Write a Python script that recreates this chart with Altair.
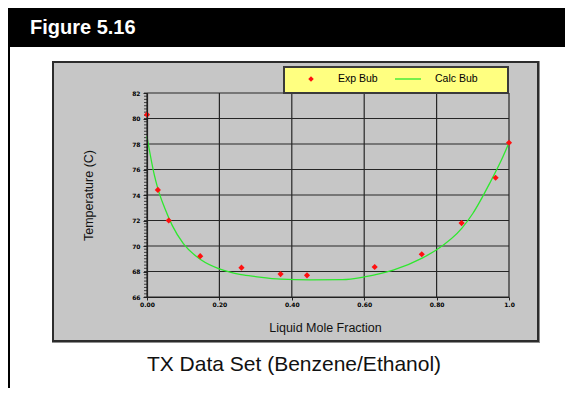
import altair as alt
import numpy as np
import pandas as pd

# ---- data ----
exp_x = [0.0, 0.030, 0.060, 0.147, 0.261, 0.369, 0.442, 0.629, 0.759, 0.869, 0.963, 1.0]
exp_t = [80.3, 74.4, 72.0, 69.2, 68.3, 67.8, 67.7, 68.35, 69.35, 71.8, 75.35, 78.1]

calc_x = [0.0, 0.01, 0.02, 0.03, 0.05, 0.07, 0.10, 0.15, 0.20, 0.26, 0.30, 0.37, 0.45,
          0.54, 0.60, 0.68, 0.76, 0.80, 0.87, 0.90, 0.95, 0.98, 1.0]
calc_t = [78.6, 77.0, 75.6, 74.5, 72.9, 71.6, 70.2, 68.9, 68.2, 67.75, 67.6, 67.4, 67.35,
          67.36, 67.57, 68.1, 69.05, 69.7, 71.4, 72.55, 75.1, 76.8, 78.1]

x_ticks = [0.0, 0.2, 0.4, 0.6, 0.8, 1.0]
y_ticks = [66, 68, 70, 72, 74, 76, 78, 80, 82]
y_minor = [float(v) for v in np.round(np.arange(66, 82.001, 0.25), 2)]
legend_labels = ["Exp Bub", "Calc Bub"]

fig_title = "Figure 5.16"
subtitle = "TX Data Set (Benzene/Ethanol)"
x_title = "Liquid Mole Fraction"
y_title = "Temperature (C)"

W, H = 362, 204
FONT = "Liberation Sans"

xscale = alt.Scale(domain=[0, 1], nice=False, zero=False)
yscale = alt.Scale(domain=[66, 82], nice=False, zero=False)

xaxis = alt.Axis(values=x_ticks, grid=False, labelFlush=False, labelOverlap=False,
                 labelExpr="datum.value == 1 ? '1.0' : format(datum.value, '.2f')",
                 labelFont="DejaVu Sans", labelFontSize=6, labelFontWeight="bold",
                 labelColor="#000000", labelPadding=1, tickSize=3, tickColor="#202020",
                 domainColor="#202020", domainWidth=1.2,
                 title=x_title, titleFont=FONT, titleFontSize=12.5, titleFontWeight="normal",
                 titleColor="#111111", titleX=178, titleY=30, titleBaseline="middle",
                 titleAlign="center", zindex=1)
yaxis = alt.Axis(values=y_ticks, grid=False, format="d", labelFlush=False, labelOverlap=False,
                 labelFont="DejaVu Sans", labelFontSize=6, labelFontWeight="bold",
                 labelColor="#000000", labelPadding=3, tickSize=4, tickColor="#202020",
                 domainColor="#202020", domainWidth=1.2,
                 title=y_title, titleFont=FONT, titleFontSize=12.5, titleFontWeight="normal",
                 titleColor="#111111", titleX=-59, titleY=102, titleAngle=270,
                 titleBaseline="middle", titleAlign="center", zindex=1)

X = alt.X("x:Q", scale=xscale, axis=xaxis)
Y = alt.Y("t:Q", scale=yscale, axis=yaxis)

one = pd.DataFrame({"k": [0]})


def rect(x1, x2, y1, y2, **kw):
    return alt.Chart(one).mark_rect(**kw).encode(
        x=alt.value(x1), x2=alt.value(x2), y=alt.value(y1), y2=alt.value(y2))


def text(t, x, y, **kw):
    return alt.Chart(pd.DataFrame({"s": [t]})).mark_text(**kw).encode(
        x=alt.value(x), y=alt.value(y), text="s:N")


# page decorations (coordinates relative to plot origin)
header = rect(-150, 430, -100, -46, fill="#000000")
left_border = rect(-139, -137, -46, 310, fill="#000000")
panel_halo = rect(-95, 393, -32, 250, fill="#8e8e8e")
panel = rect(-94, 391, -31, 248, fill="#c6c6c6", stroke="#2c2c2c", strokeWidth=2)

title_t = text(fig_title, -117, -59, align="left", baseline="alphabetic", font=FONT,
               fontSize=20, fontWeight="bold", color="#ffffff")
sub_t = text(subtitle, 147, 272, align="center", baseline="middle", font=FONT,
             fontSize=21, color="#111111")

# grid lines
vgrid = alt.Chart(pd.DataFrame({"x": x_ticks})).mark_rule(
    color="#262626", strokeWidth=1.2).encode(x=X)
hgrid = alt.Chart(pd.DataFrame({"t": y_ticks})).mark_rule(
    color="#262626", strokeWidth=1.2).encode(y=Y)
minor = alt.Chart(pd.DataFrame({"t": y_minor})).mark_rule(
    color="#202020", strokeWidth=0.8).encode(y=Y, x=alt.value(-3), x2=alt.value(0))

# data
calc = alt.Chart(pd.DataFrame({"x": calc_x, "t": calc_t})).mark_line(
    color="#2ee82e", strokeWidth=1.3, interpolate="monotone").encode(x=X, y=Y)
exp = alt.Chart(pd.DataFrame({"x": exp_x, "t": exp_t})).mark_point(
    shape="diamond", filled=True, color="#ff1010", size=38, opacity=1).encode(x=X, y=Y)

# legend box
leg_box = rect(137, 361, -26, 0, fill="#ffff80", stroke="#3a3a3a", strokeWidth=2)
leg_pt = alt.Chart(one).mark_point(shape="diamond", filled=True, color="#ff1010",
                                   size=30, opacity=1).encode(x=alt.value(164), y=alt.value(-14))
leg_ln = alt.Chart(one).mark_rule(color="#2ee82e", strokeWidth=1.3).encode(
    x=alt.value(248), x2=alt.value(274), y=alt.value(-14))
leg_t1 = text(legend_labels[0], 191, -14, align="left", baseline="middle", font=FONT,
              fontSize=10.5, color="#000000")
leg_t2 = text(legend_labels[1], 288, -14, align="left", baseline="middle", font=FONT,
              fontSize=10.5, color="#000000")

chart = alt.layer(
    header, left_border, panel_halo, panel, title_t, sub_t,
    vgrid, hgrid, minor, calc, exp,
    leg_box, leg_pt, leg_ln, leg_t1, leg_t2,
).properties(
    width=W, height=H,
    padding={"left": 139, "top": 85, "right": 56, "bottom": 91},
    autosize=alt.AutoSizeParams(type="none"),
    background="#ffffff",
).configure_view(stroke=None)

chart.save("out.html", embed_options={"renderer": "svg", "actions": False})
